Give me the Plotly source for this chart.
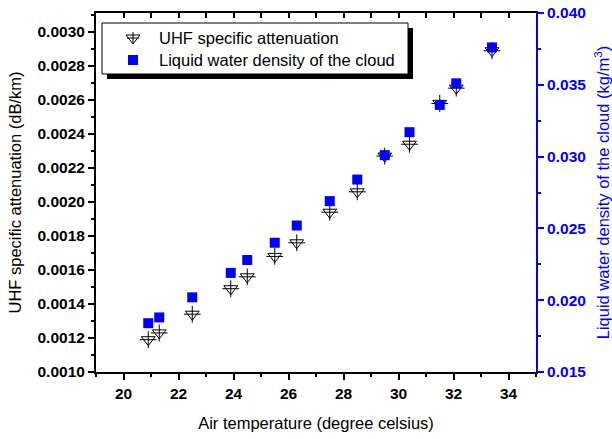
import plotly.graph_objects as go

# Air temperature (degree celsius)
temperature = [20.9, 21.3, 22.5, 23.9, 24.5, 25.5, 26.3, 27.5, 28.5, 29.5, 30.4, 31.5, 32.1, 33.4]
# UHF specific attenuation (dB/km)
attenuation = [0.00119, 0.00123, 0.00134, 0.00149, 0.00156, 0.00168, 0.00176,
               0.00194, 0.00206, 0.00227, 0.00234, 0.00258, 0.00267, 0.00289]
# Liquid water density of the cloud (kg/m^3)
water_density = [0.0184, 0.0188, 0.0202, 0.0219, 0.0228, 0.0240, 0.0252,
                 0.0269, 0.0284, 0.0301, 0.0317, 0.0336, 0.0351, 0.0376]

legend_labels = ["UHF specific attenuation", "Liquid water density of the cloud"]

FONT = "Liberation Sans, Arial, sans-serif"
W, H = 612, 439
ML, MR, MT, MB = 96, 76, 13, 67
PW, PH = W - ML - MR, H - MT - MB


def px_to_paper(px, py):
    return (px - ML) / PW, (H - MB - py) / PH


fig = go.Figure()

# down-triangle with a plus inside, built from two overlaid symbols
fig.add_trace(go.Scatter(
    x=temperature, y=attenuation, mode="markers", showlegend=False,
    marker=dict(symbol="triangle-down-open", size=12, color="black",
                line=dict(color="black", width=1)),
))
fig.add_trace(go.Scatter(
    x=temperature, y=attenuation, mode="markers", showlegend=False,
    marker=dict(symbol="cross-thin-open", size=12, color="black",
                line=dict(color="black", width=1)),
))
fig.add_trace(go.Scatter(
    x=temperature, y=water_density, mode="markers", showlegend=False,
    xaxis="x2", yaxis="y2",
    marker=dict(symbol="square", size=10, color="#0000ff", line=dict(width=0)),
))

tick_font = dict(family=FONT, size=15.5, color="black", weight="bold")
title_font = dict(family=FONT, size=16.5, color="black")

xcommon = dict(range=[19, 35], tick0=0, dtick=2, showgrid=False, zeroline=False,
               showline=True, linewidth=2, linecolor="black",
               tickwidth=2, tickcolor="black", automargin=False)

fig.update_layout(
    width=W, height=H,
    margin=dict(l=ML, r=MR, t=MT, b=MB, pad=0),
    paper_bgcolor="white", plot_bgcolor="white",
    showlegend=False,
    xaxis=dict(**xcommon, ticks="outside", ticklen=6, tickfont=tick_font,
               minor=dict(ticks="outside", dtick=1, ticklen=3, tickwidth=2, tickcolor="black"),
               title=dict(text="Air temperature (degree celsius)", font=title_font, standoff=17)),
    xaxis2=dict(**xcommon, overlaying="x", side="top", anchor="y2", ticks="inside",
                ticklen=5, showticklabels=False,
                minor=dict(ticks="inside", dtick=1, ticklen=5, tickwidth=2, tickcolor="black")),
    yaxis=dict(range=[0.0010, 0.003112], tick0=0.001, dtick=0.0002, tickformat=".4f",
               showgrid=False, zeroline=False, showline=True, linewidth=2, linecolor="black",
               ticks="outside", ticklen=6, tickwidth=2, tickcolor="black", tickfont=tick_font,
               automargin=False,
               minor=dict(ticks="outside", dtick=0.0001, ticklen=3, tickwidth=2, tickcolor="black"),
               title=dict(text="UHF specific attenuation (dB/km)", font=title_font, standoff=12)),
    yaxis2=dict(range=[0.015, 0.040], tick0=0.015, dtick=0.005, tickformat=".3f",
                overlaying="y", side="right", anchor="x2", automargin=False,
                showgrid=False, zeroline=False, showline=True, linewidth=2, linecolor="#0000ff",
                ticks="outside", ticklen=6, tickwidth=2, tickcolor="#0000ff",
                tickfont=dict(family=FONT, size=15.5, color="#0000ff", weight="bold"),
                minor=dict(ticks="outside", dtick=0.0025, ticklen=3, tickwidth=2, tickcolor="#0000ff"),
                title=dict(text="Liquid water density of the cloud (kg/m<sup>3</sup>)",
                           font=dict(family=FONT, size=16.5, color="#0000ff"), standoff=16)),
)

# legend box with drop shadow
sx0, sy0 = px_to_paper(107, 79)
sx1, sy1 = px_to_paper(413, 28)
bx0, by0 = px_to_paper(102, 74)
bx1, by1 = px_to_paper(408, 23)
shapes = [
    dict(type="rect", xref="paper", yref="paper", x0=sx0, y0=sy0, x1=sx1, y1=sy1,
         fillcolor="black", line=dict(width=0), layer="above"),
    dict(type="rect", xref="paper", yref="paper", x0=bx0, y0=by0, x1=bx1, y1=by1,
         fillcolor="white", line=dict(color="black", width=1), layer="above"),
]

# legend glyphs
gx1, gy1 = px_to_paper(133, 38)
gx2, gy2 = px_to_paper(133, 60)
glyph = dict(xref="paper", yref="paper", xsizemode="pixel", ysizemode="pixel", layer="above")
shapes.append(dict(type="path", xanchor=gx1, yanchor=gy1,
                   path="M-7,3 L7,3 L0,-6 Z", line=dict(color="black", width=1), **glyph))
shapes.append(dict(type="path", xanchor=gx1, yanchor=gy1,
                   path="M0,6 L0,-6 M-6,0 L6,0", line=dict(color="black", width=1), **glyph))
shapes.append(dict(type="rect", xanchor=gx2, yanchor=gy2, x0=-5, x1=5, y0=-5, y1=5,
                   fillcolor="#0000ff", line=dict(width=0), **glyph))
fig.update_layout(shapes=shapes)

tx1, _ = px_to_paper(157, 0)
for label, gy in zip(legend_labels, [gy1, gy2]):
    fig.add_annotation(x=tx1, y=gy, xref="paper", yref="paper", text=label,
                       showarrow=False, xanchor="left", yanchor="middle",
                       font=dict(family=FONT, size=16.5, color="black"))

fig.write_html("out.html")
